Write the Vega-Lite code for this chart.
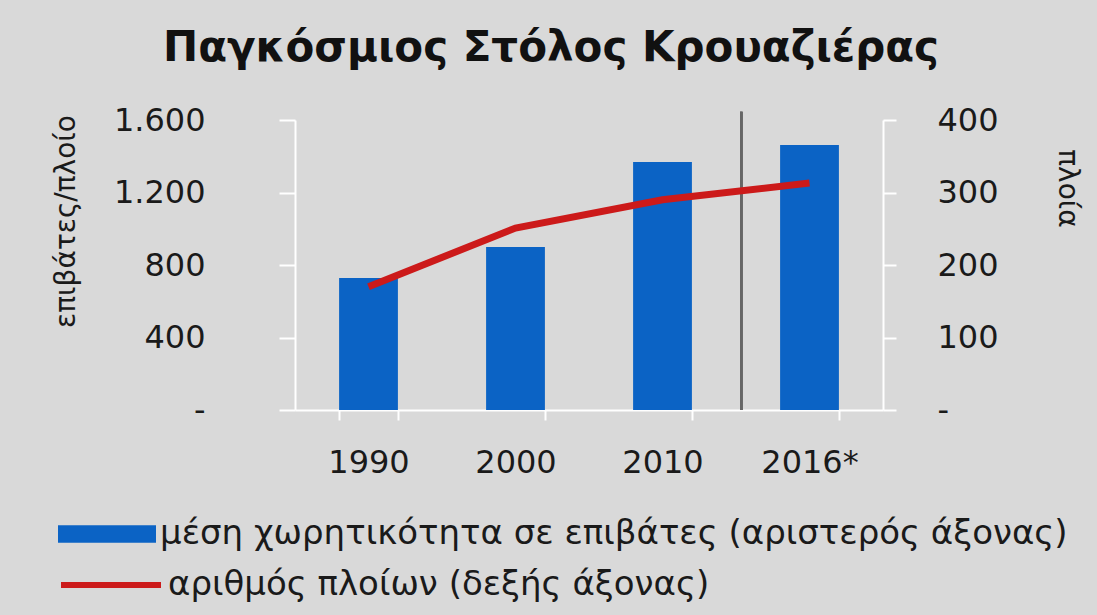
{
  "$schema": "https://vega.github.io/schema/vega-lite/v6.json",
  "width": 588,
  "height": 290,
  "autosize": {"type": "none"},
  "padding": {"left": 295, "top": 120, "right": 214, "bottom": 205},
  "background": "#d9d9d9",
  "title": {
    "text": "Παγκόσμιος Στόλος Κρουαζιέρας",
    "font": "DejaVu Sans",
    "fontSize": 42,
    "fontWeight": "bold",
    "color": "#111111",
    "anchor": "middle",
    "frame": "group",
    "dx": -38,
    "offset": 34
  },
  "data": {
    "values": [
      {"year": "1990", "capacity": 728, "ships": 170},
      {"year": "2000", "capacity": 899, "ships": 251},
      {"year": "2010", "capacity": 1368, "ships": 290},
      {"year": "2016*", "capacity": 1462, "ships": 313}
    ]
  },
  "config": {
    "view": {"stroke": null},
    "font": "DejaVu Sans",
    "axis": {
      "grid": false,
      "domainColor": "#ffffff",
      "domainWidth": 2,
      "tickColor": "#ffffff",
      "tickWidth": 2,
      "labelFont": "DejaVu Sans",
      "labelFontSize": 32,
      "labelColor": "#1a1a1a",
      "titleFont": "DejaVu Sans",
      "titleFontSize": 28,
      "titleFontWeight": "normal",
      "titleColor": "#1a1a1a"
    },
    "legend": {
      "labelFont": "DejaVu Sans",
      "labelFontSize": 34,
      "labelColor": "#1a1a1a",
      "labelLimit": 1200,
      "padding": 0
    }
  },
  "encoding": {
    "x": {
      "field": "year",
      "type": "ordinal",
      "sort": null,
      "scale": {"paddingInner": 0.6, "paddingOuter": 0.3},
      "axis": {
        "title": null,
        "labelAngle": 0,
        "tickBand": "extent",
        "tickSize": 10,
        "labelPadding": 27,
        "labelBaseline": "top"
      }
    }
  },
  "layer": [
    {
      "mark": {"type": "bar"},
      "encoding": {
        "y": {
          "field": "capacity",
          "type": "quantitative",
          "scale": {"domain": [0, 1600]},
          "axis": {
            "orient": "left",
            "values": [0, 400, 800, 1200, 1600],
            "labelExpr": "datum.value == 0 ? '-\u00a0\u00a0' : replace(format(datum.value, ','), ',', '.')",
            "tickSize": 16,
            "labelPadding": 74,
            "title": "επιβάτες/πλοίο",
            "titleAngle": -90,
            "titleAlign": "center",
            "titleBaseline": "middle",
            "titleX": -229,
            "titleY": 101
          }
        },
        "fill": {
          "datum": "μέση χωρητικότητα σε επιβάτες (αριστερός άξονας)",
          "scale": {"range": ["#0b63c5"]},
          "legend": {
            "orient": "none",
            "legendX": -237,
            "legendY": 365,
            "title": null,
            "symbolType": "M-1,-0.18H1V0.18H-1Z",
            "symbolSize": 9604,
            "symbolStrokeWidth": 0,
            "labelOffset": 4
          }
        }
      }
    },
    {
      "mark": {"type": "rule", "color": "#666666", "strokeWidth": 2.5},
      "encoding": {
        "x": {"datum": "2016*", "bandPosition": -0.66},
        "y": {"datum": 1645, "scale": {"domain": [0, 1600]}, "axis": null},
        "y2": {"datum": 0}
      }
    },
    {
      "mark": {"type": "line", "strokeWidth": 7},
      "encoding": {
        "y": {
          "field": "ships",
          "type": "quantitative",
          "scale": {"domain": [0, 400]},
          "axis": {
            "orient": "right",
            "values": [0, 100, 200, 300, 400],
            "labelExpr": "datum.value == 0 ? '-' : format(datum.value, 'd')",
            "tickSize": 13,
            "labelPadding": 41,
            "title": "πλοία",
            "titleAngle": 90,
            "titleAlign": "center",
            "titleBaseline": "middle",
            "titleX": 183,
            "titleY": 68
          }
        },
        "stroke": {
          "datum": "αριθμός πλοίων (δεξής άξονας)",
          "scale": {"range": ["#cc1a1a"]},
          "legend": {
            "orient": "none",
            "legendX": -237,
            "legendY": 412,
            "title": null,
            "symbolType": "stroke",
            "symbolSize": 10000,
            "symbolStrokeWidth": 6,
            "labelOffset": 4
          }
        }
      }
    }
  ],
  "resolve": {"scale": {"y": "independent"}}
}
